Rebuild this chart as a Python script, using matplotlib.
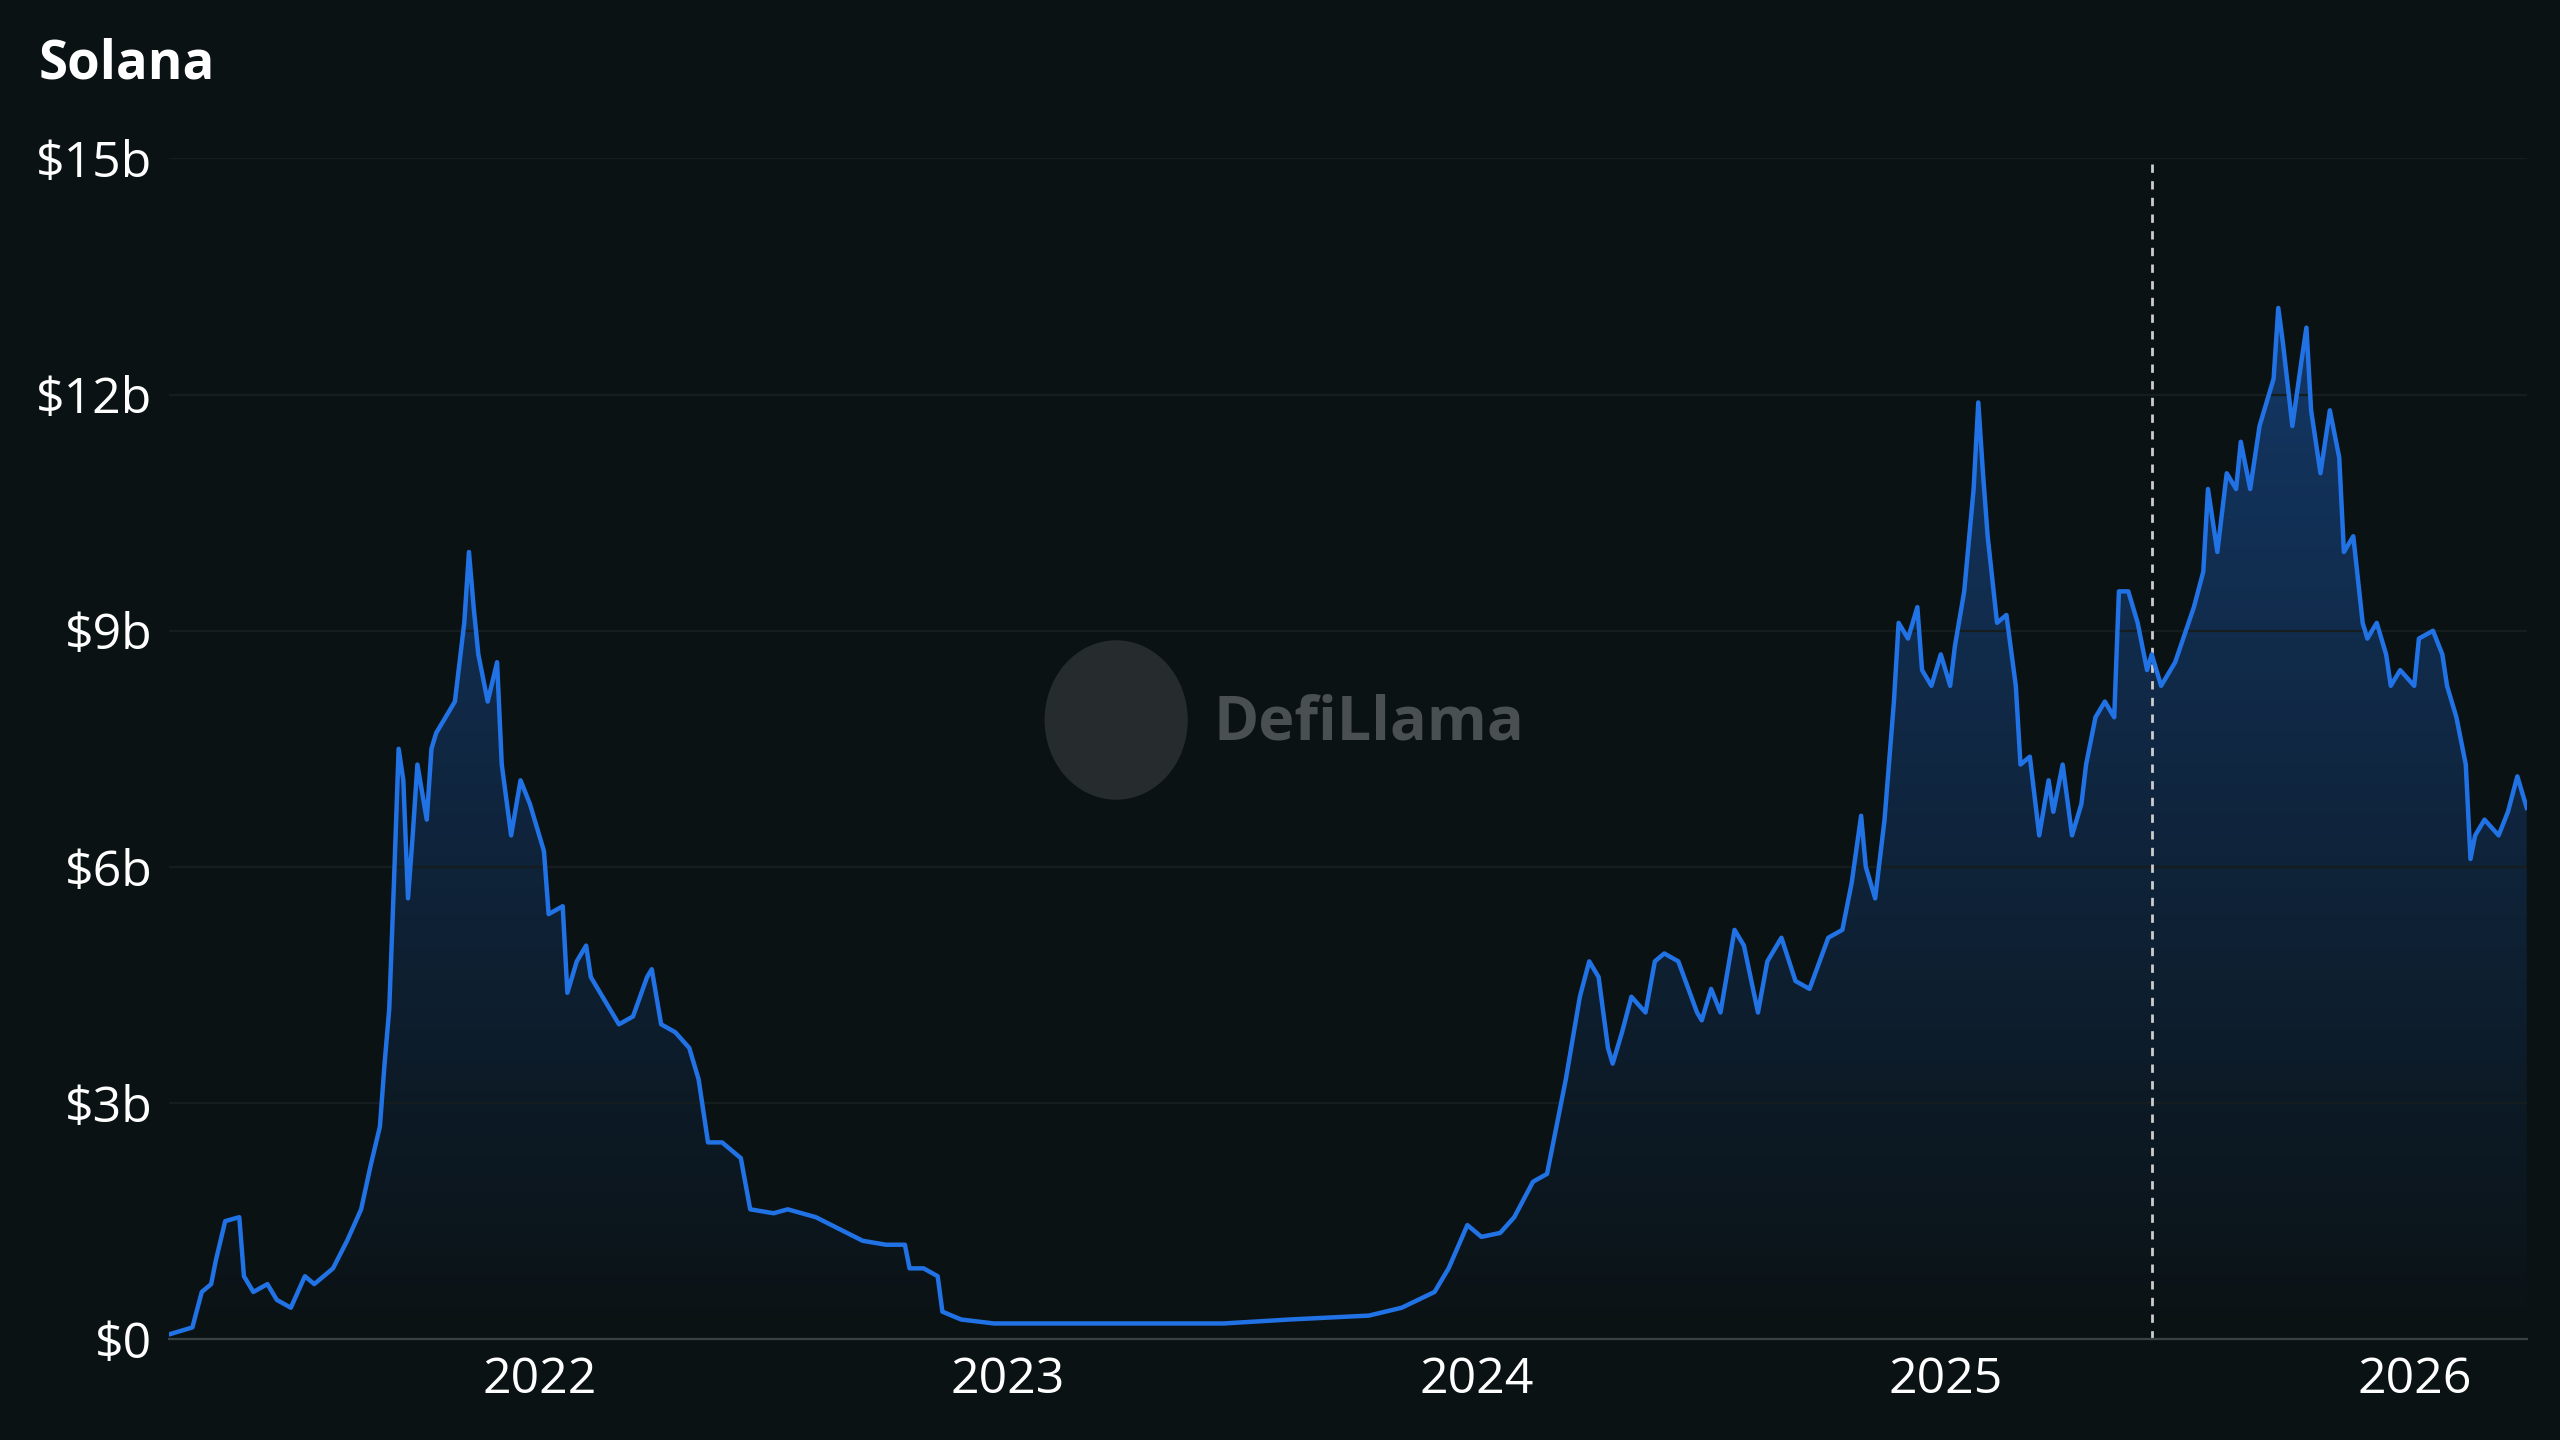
import matplotlib
matplotlib.use('Agg')
import matplotlib.pyplot as plt
from matplotlib.colors import LinearSegmentedColormap
from matplotlib.patches import Ellipse
import numpy as np

plt.rcParams['font.family'] = ['Open Sans', 'DejaVu Sans']

# decimal year, TVL in $b
years = [2021.21, 2021.26, 2021.28, 2021.30, 2021.31, 2021.33, 2021.36, 2021.37, 2021.39, 2021.42,
         2021.44, 2021.47, 2021.50, 2021.52, 2021.56, 2021.59, 2021.62, 2021.64, 2021.66, 2021.67,
         2021.68, 2021.69, 2021.70, 2021.71, 2021.72, 2021.73, 2021.74, 2021.76, 2021.77, 2021.78,
         2021.80, 2021.82, 2021.84, 2021.85, 2021.86, 2021.87, 2021.89, 2021.91, 2021.92, 2021.94,
         2021.96, 2021.98, 2021.99, 2022.01, 2022.02, 2022.05, 2022.06, 2022.08, 2022.10, 2022.11,
         2022.14, 2022.17, 2022.20, 2022.23, 2022.24, 2022.26, 2022.29, 2022.32, 2022.34, 2022.36,
         2022.39, 2022.43, 2022.45, 2022.50, 2022.53, 2022.59, 2022.64, 2022.69, 2022.74, 2022.78,
         2022.79, 2022.82, 2022.85, 2022.86, 2022.90, 2022.97, 2023.02, 2023.11, 2023.28, 2023.46,
         2023.60, 2023.77, 2023.84, 2023.91, 2023.94, 2023.98, 2024.01, 2024.05, 2024.08, 2024.12,
         2024.15, 2024.17, 2024.19, 2024.21, 2024.22, 2024.24, 2024.26, 2024.28, 2024.29, 2024.31,
         2024.33, 2024.36, 2024.38, 2024.40, 2024.43, 2024.47, 2024.48, 2024.50, 2024.52, 2024.55,
         2024.57, 2024.60, 2024.62, 2024.65, 2024.68, 2024.71, 2024.75, 2024.78, 2024.80, 2024.82,
         2024.83, 2024.85, 2024.87, 2024.89, 2024.90, 2024.92, 2024.94, 2024.95, 2024.97, 2024.99,
         2025.01, 2025.02, 2025.04, 2025.06, 2025.07, 2025.08, 2025.09, 2025.11, 2025.13, 2025.15,
         2025.16, 2025.18, 2025.20, 2025.22, 2025.23, 2025.25, 2025.27, 2025.29, 2025.30, 2025.32,
         2025.34, 2025.36, 2025.37, 2025.39, 2025.41, 2025.43, 2025.44, 2025.46, 2025.49, 2025.53,
         2025.55, 2025.56, 2025.58, 2025.60, 2025.62, 2025.63, 2025.65, 2025.67, 2025.69, 2025.70,
         2025.71, 2025.72, 2025.74, 2025.76, 2025.77, 2025.78, 2025.80, 2025.82, 2025.84, 2025.85,
         2025.87, 2025.89, 2025.90, 2025.92, 2025.94, 2025.95, 2025.97, 2026.00, 2026.01, 2026.04,
         2026.06, 2026.07, 2026.09, 2026.11, 2026.12, 2026.13, 2026.15, 2026.18, 2026.20, 2026.22,
         2026.24]
tvl = [0.06, 0.15, 0.6, 0.7, 1.0, 1.5, 1.55, 0.8, 0.6, 0.7,
       0.5, 0.4, 0.8, 0.7, 0.9, 1.25, 1.65, 2.2, 2.7, 3.5,
       4.2, 5.8, 7.5, 7.1, 5.6, 6.4, 7.3, 6.6, 7.5, 7.7,
       7.9, 8.1, 9.1, 10.0, 9.3, 8.7, 8.1, 8.6, 7.3, 6.4,
       7.1, 6.8, 6.6, 6.2, 5.4, 5.5, 4.4, 4.8, 5.0, 4.6,
       4.3, 4.0, 4.1, 4.6, 4.7, 4.0, 3.9, 3.7, 3.3, 2.5,
       2.5, 2.3, 1.65, 1.6, 1.65, 1.55, 1.4, 1.25, 1.2, 1.2,
       0.9, 0.9, 0.8, 0.35, 0.25, 0.2, 0.2, 0.2, 0.2, 0.2,
       0.25, 0.3, 0.4, 0.6, 0.9, 1.45, 1.3, 1.35, 1.55, 2.0,
       2.1, 2.7, 3.3, 4.0, 4.35, 4.8, 4.6, 3.7, 3.5, 3.9,
       4.35, 4.15, 4.8, 4.9, 4.8, 4.15, 4.05, 4.45, 4.15, 5.2,
       5.0, 4.15, 4.8, 5.1, 4.55, 4.45, 5.1, 5.2, 5.8, 6.65,
       6.0, 5.6, 6.6, 8.1, 9.1, 8.9, 9.3, 8.5, 8.3, 8.7,
       8.3, 8.8, 9.5, 10.8, 11.9, 11.0, 10.2, 9.1, 9.2, 8.3,
       7.3, 7.4, 6.4, 7.1, 6.7, 7.3, 6.4, 6.8, 7.3, 7.9,
       8.1, 7.9, 9.5, 9.5, 9.1, 8.5, 8.7, 8.3, 8.6, 9.3,
       9.75, 10.8, 10.0, 11.0, 10.8, 11.4, 10.8, 11.6, 12.0, 12.2,
       13.1, 12.65, 11.6, 12.45, 12.85, 11.8, 11.0, 11.8, 11.2, 10.0,
       10.2, 9.1, 8.9, 9.1, 8.7, 8.3, 8.5, 8.3, 8.9, 9.0,
       8.7, 8.3, 7.9, 7.3, 6.1, 6.4, 6.6, 6.4, 6.7, 7.15,
       6.75]
marker_year = 2025.44
x_ticks = [2022, 2023, 2024, 2025, 2026]
y_ticks = [0, 3, 6, 9, 12, 15]

BG = '#0b1214'
LINE = '#2172e5'

fig = plt.figure(figsize=(12.8, 7.2), dpi=200, facecolor=BG)
ax = fig.add_axes([0.066, 0.070, 0.921, 0.820], facecolor=BG)

x = np.array(years)
y = np.array(tvl)
ax.set_xlim(x[0], x[-1])
ax.set_ylim(0, 15)

# gradient fill under the line
cmap = LinearSegmentedColormap.from_list('fill', [(0.13, 0.45, 0.9, 0.0), (0.13, 0.45, 0.9, 0.45)])
grad = np.linspace(0, 1, 256).reshape(-1, 1)
im = ax.imshow(grad, cmap=cmap, aspect='auto', origin='lower',
               extent=[x[0], x[-1], 0, 15], zorder=1)
poly = ax.fill_between(x, y, 0, color='none')
im.set_clip_path(poly.get_paths()[0], transform=ax.transData)

ax.plot(x, y, color=LINE, lw=1.6, zorder=3)
ax.axvline(marker_year, color='#cccccc', lw=1.0, ls=(0, (3, 3)), zorder=2)

ax.set_xticks(x_ticks)
ax.set_xticklabels([str(t) for t in x_ticks])
ax.set_yticks(y_ticks)
ax.set_yticklabels([f'${t}b' if t else '$0' for t in y_ticks])
ax.tick_params(colors='white', labelsize=18, length=0, pad=6)
ax.grid(axis='y', color='#151d1f', lw=0.8)
for s in ['top', 'right', 'left']:
    ax.spines[s].set_visible(False)
ax.spines['bottom'].set_color('#3a4245')

fig.text(0.015, 0.955, 'Solana', color='white', fontsize=19, fontweight='bold', va='center')

# watermark
fig.patches.append(Ellipse((0.436, 0.500), 2 * 43 / 1568, 2 * 48 / 882, transform=fig.transFigure,
                           color='#262c2e', zorder=0.5))
fig.text(0.474, 0.497, 'DefiLlama', color='#4a4f52', fontsize=22, fontweight='bold',
         ha='left', va='center')

fig.savefig('out.png', facecolor=BG)
